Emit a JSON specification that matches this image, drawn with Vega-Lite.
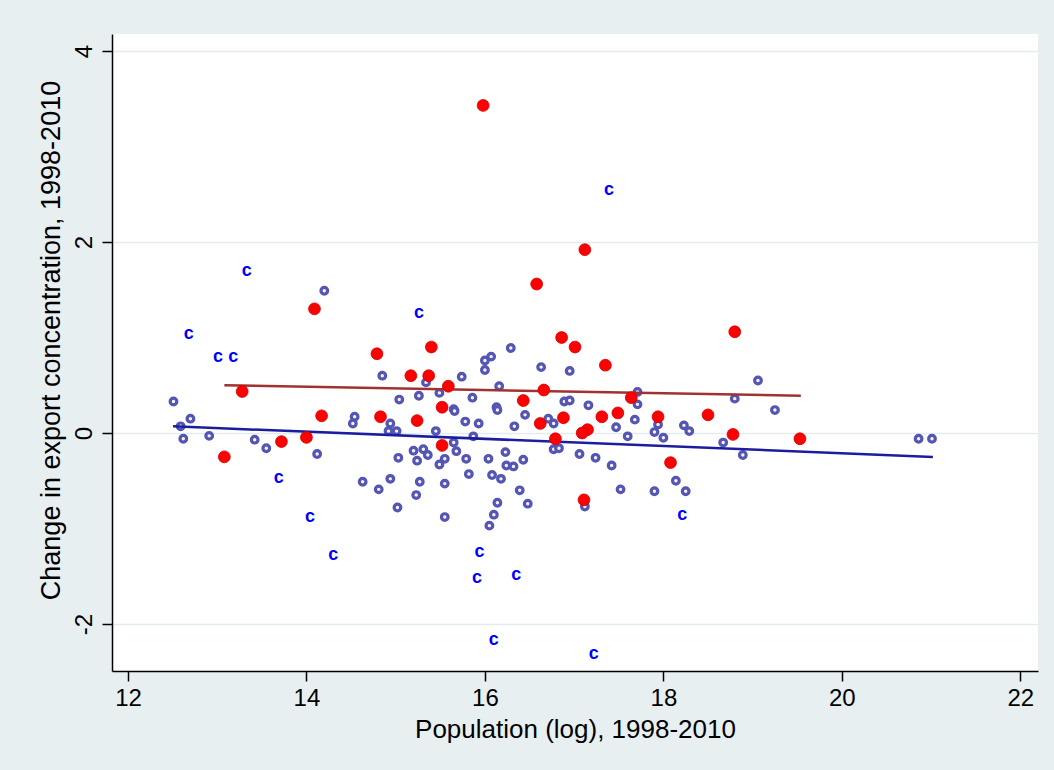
{
  "$schema": "https://vega.github.io/schema/vega-lite/v6.json",
  "width": 926,
  "height": 637,
  "autosize": {"type": "none"},
  "padding": {"left": 112, "top": 34, "right": 16, "bottom": 99},
  "background": "#e8eff1",
  "config": {"view": {"fill": "white", "stroke": null}, "font": "Liberation Sans"},
  "datasets": {
    "hollow": [
      {"x": 14.20, "y": 1.49}, {"x": 12.51, "y": 0.33}, {"x": 12.70, "y": 0.15}, {"x": 12.59, "y": 0.07},
      {"x": 12.62, "y": -0.06}, {"x": 12.91, "y": -0.03}, {"x": 13.42, "y": -0.07}, {"x": 13.55, "y": -0.16},
      {"x": 14.12, "y": -0.22}, {"x": 14.85, "y": 0.60}, {"x": 15.34, "y": 0.53}, {"x": 15.74, "y": 0.59},
      {"x": 15.49, "y": 0.42}, {"x": 15.26, "y": 0.39}, {"x": 15.04, "y": 0.35}, {"x": 15.86, "y": 0.37},
      {"x": 16.00, "y": 0.76}, {"x": 16.07, "y": 0.80}, {"x": 16.00, "y": 0.66}, {"x": 16.29, "y": 0.89},
      {"x": 16.16, "y": 0.49}, {"x": 15.65, "y": 0.25}, {"x": 15.66, "y": 0.23}, {"x": 16.13, "y": 0.27},
      {"x": 16.14, "y": 0.24}, {"x": 16.45, "y": 0.19}, {"x": 14.54, "y": 0.17}, {"x": 14.52, "y": 0.10},
      {"x": 14.94, "y": 0.10}, {"x": 14.92, "y": 0.02}, {"x": 15.01, "y": 0.02}, {"x": 15.78, "y": 0.12},
      {"x": 15.93, "y": 0.10}, {"x": 16.33, "y": 0.07}, {"x": 15.45, "y": 0.02}, {"x": 15.87, "y": -0.035},
      {"x": 15.65, "y": -0.10}, {"x": 15.20, "y": -0.185}, {"x": 15.31, "y": -0.17}, {"x": 15.36, "y": -0.23},
      {"x": 15.24, "y": -0.29}, {"x": 15.68, "y": -0.19}, {"x": 15.03, "y": -0.26}, {"x": 15.55, "y": -0.27},
      {"x": 15.49, "y": -0.33}, {"x": 15.79, "y": -0.27}, {"x": 16.04, "y": -0.27}, {"x": 16.23, "y": -0.20},
      {"x": 16.24, "y": -0.34}, {"x": 16.32, "y": -0.35}, {"x": 16.43, "y": -0.28}, {"x": 15.82, "y": -0.43},
      {"x": 16.08, "y": -0.44}, {"x": 16.18, "y": -0.48}, {"x": 14.63, "y": -0.51}, {"x": 14.81, "y": -0.59},
      {"x": 14.94, "y": -0.48}, {"x": 15.27, "y": -0.51}, {"x": 15.55, "y": -0.53}, {"x": 15.23, "y": -0.65},
      {"x": 16.39, "y": -0.60}, {"x": 16.48, "y": -0.74}, {"x": 15.02, "y": -0.78}, {"x": 16.14, "y": -0.73},
      {"x": 16.10, "y": -0.855}, {"x": 15.55, "y": -0.88}, {"x": 16.05, "y": -0.97}, {"x": 16.63, "y": 0.69},
      {"x": 16.95, "y": 0.65}, {"x": 16.89, "y": 0.33}, {"x": 16.95, "y": 0.34}, {"x": 17.16, "y": 0.29},
      {"x": 17.71, "y": 0.43}, {"x": 17.71, "y": 0.30}, {"x": 16.71, "y": 0.15}, {"x": 16.77, "y": 0.10},
      {"x": 17.68, "y": 0.14}, {"x": 17.94, "y": 0.09}, {"x": 17.47, "y": 0.06}, {"x": 17.60, "y": -0.035},
      {"x": 17.90, "y": 0.01}, {"x": 18.00, "y": -0.05}, {"x": 18.23, "y": 0.08}, {"x": 18.29, "y": 0.02},
      {"x": 16.77, "y": -0.17}, {"x": 16.83, "y": -0.16}, {"x": 17.06, "y": -0.22}, {"x": 17.24, "y": -0.26},
      {"x": 17.42, "y": -0.34}, {"x": 18.14, "y": -0.50}, {"x": 18.25, "y": -0.61}, {"x": 17.52, "y": -0.59},
      {"x": 17.90, "y": -0.61}, {"x": 17.12, "y": -0.77}, {"x": 19.06, "y": 0.55}, {"x": 18.80, "y": 0.36},
      {"x": 19.25, "y": 0.24}, {"x": 18.67, "y": -0.10}, {"x": 18.89, "y": -0.23}, {"x": 20.86, "y": -0.06},
      {"x": 21.01, "y": -0.06}
    ],
    "red": [
      {"x": 15.98, "y": 3.43}, {"x": 17.12, "y": 1.92}, {"x": 16.58, "y": 1.56}, {"x": 14.09, "y": 1.30},
      {"x": 18.80, "y": 1.06}, {"x": 16.86, "y": 1.00}, {"x": 17.01, "y": 0.90}, {"x": 15.40, "y": 0.90},
      {"x": 14.79, "y": 0.83}, {"x": 17.35, "y": 0.71}, {"x": 15.17, "y": 0.60}, {"x": 15.37, "y": 0.60},
      {"x": 15.59, "y": 0.49}, {"x": 16.66, "y": 0.45}, {"x": 13.28, "y": 0.435}, {"x": 17.64, "y": 0.37},
      {"x": 16.43, "y": 0.34}, {"x": 15.52, "y": 0.27}, {"x": 18.50, "y": 0.19}, {"x": 14.17, "y": 0.18},
      {"x": 14.83, "y": 0.17}, {"x": 17.49, "y": 0.21}, {"x": 17.31, "y": 0.17}, {"x": 16.88, "y": 0.16},
      {"x": 17.94, "y": 0.17}, {"x": 15.24, "y": 0.13}, {"x": 16.62, "y": 0.10}, {"x": 17.15, "y": 0.035},
      {"x": 17.09, "y": 0.00}, {"x": 18.78, "y": -0.015}, {"x": 14.00, "y": -0.046}, {"x": 19.53, "y": -0.06},
      {"x": 16.79, "y": -0.06}, {"x": 13.72, "y": -0.09}, {"x": 15.52, "y": -0.13}, {"x": 13.08, "y": -0.25},
      {"x": 18.08, "y": -0.31}, {"x": 17.11, "y": -0.70}
    ],
    "clab": [
      {"x": 17.39, "y": 2.545, "lab": "c"}, {"x": 13.33, "y": 1.70, "lab": "c"}, {"x": 15.26, "y": 1.26, "lab": "c"},
      {"x": 12.68, "y": 1.04, "lab": "c"}, {"x": 13.01, "y": 0.80, "lab": "c"}, {"x": 13.18, "y": 0.80, "lab": "c"},
      {"x": 13.69, "y": -0.47, "lab": "c"}, {"x": 14.04, "y": -0.875, "lab": "c"}, {"x": 18.21, "y": -0.86, "lab": "c"},
      {"x": 15.94, "y": -1.25, "lab": "c"}, {"x": 14.30, "y": -1.28, "lab": "c"}, {"x": 16.35, "y": -1.49, "lab": "c"},
      {"x": 15.91, "y": -1.52, "lab": "c"}, {"x": 16.10, "y": -2.17, "lab": "c"}, {"x": 17.22, "y": -2.31, "lab": "c"}
    ],
    "fits": [
      {"x": 12.505, "y": 0.07, "g": "all"}, {"x": 21.02, "y": -0.25, "g": "all"},
      {"x": 13.08, "y": 0.50, "g": "sub"}, {"x": 19.54, "y": 0.39, "g": "sub"}
    ]
  },
  "encoding": {
    "x": {"field": "x", "type": "quantitative",
      "scale": {"domain": [11.821, 22.198], "nice": false, "zero": false},
      "axis": {"values": [12, 14, 16, 18, 20, 22], "title": "Population (log), 1998-2010", "grid": false,
        "domainColor": "black", "domainWidth": 1.5, "tickColor": "black", "tickWidth": 1.5, "tickSize": 10,
        "labelFontSize": 24, "labelColor": "black", "labelPadding": 5, "labelBaseline": "top", "labelFlush": false,
        "titleFontSize": 26, "titleFontWeight": "normal", "titleColor": "black", "titleY": 66, "titleBaseline": "alphabetic"}},
    "y": {"field": "y", "type": "quantitative",
      "scale": {"domain": [-2.492, 4.178], "nice": false, "zero": false},
      "axis": {"values": [-2, 0, 2, 4], "title": "Change in export concentration, 1998-2010", "grid": true,
        "gridColor": "#e2ebee", "gridWidth": 1.5,
        "domainColor": "black", "domainWidth": 1.5, "tickColor": "black", "tickWidth": 1.5, "tickSize": 10,
        "labelExpr": "datum.value < 0 ? '-' + (-datum.value) : '' + datum.value",
        "labelFontSize": 24, "labelColor": "black", "labelAngle": -90, "labelAlign": "center", "labelBaseline": "alphabetic", "labelPadding": 11, "labelFlush": false,
        "titleFontSize": 27, "titleFontWeight": "normal", "titleColor": "black", "titleAngle": -90, "titleX": -53, "titleY": 306, "titleAlign": "center", "titleBaseline": "alphabetic"}}
  },
  "layer": [
    {
      "data": {"name": "hollow"},
      "mark": {"type": "point", "shape": "circle", "filled": false, "size": 44, "strokeWidth": 3.2, "stroke": "#5555b4", "fill": "#f4f4ff", "fillOpacity": 1, "opacity": 1}
    },
    {
      "data": {"name": "fits"},
      "mark": {"type": "line", "strokeWidth": 2.5},
      "encoding": {
        "detail": {"field": "g"},
        "color": {"field": "g", "type": "nominal", "scale": {"domain": ["all", "sub"], "range": ["#1c1ca0", "#a03232"]}, "legend": null}
      }
    },
    {
      "data": {"name": "red"},
      "mark": {"type": "point", "shape": "circle", "filled": true, "size": 140, "fill": "#ff0000", "stroke": "#d00000", "strokeWidth": 0.8, "opacity": 1}
    },
    {
      "data": {"name": "clab"},
      "mark": {"type": "text", "fontSize": 18, "fontWeight": "bold", "color": "#0000ff", "align": "center", "baseline": "middle"},
      "encoding": {
        "text": {"field": "lab"}
      }
    }
  ]
}
